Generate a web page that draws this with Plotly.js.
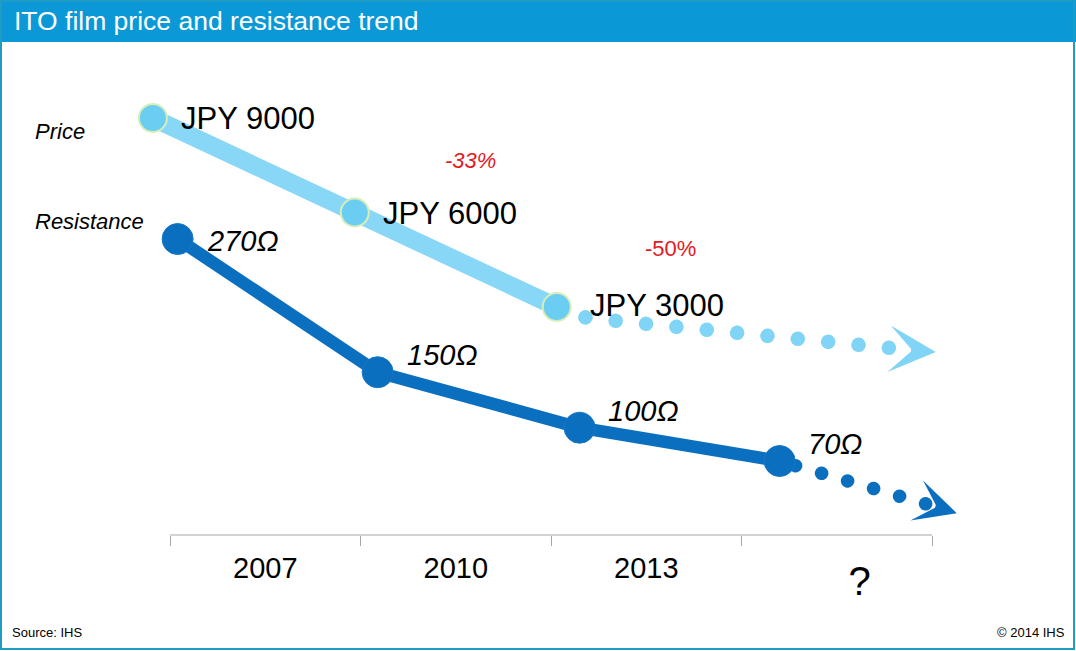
<!DOCTYPE html>
<html><head><meta charset="utf-8">
<script src="https://cdn.plot.ly/plotly-3.0.1.min.js"></script>
<style>
html,body{margin:0;padding:0;background:#fff;}
#chart{width:1076px;height:651px;}
.js-line{stroke-linecap:round;stroke-linejoin:round;}
</style></head><body><div id="chart"></div>
<script>
// ---- data ----
const categories = ['2007', '2010', '2013', '?'];
const priceX = [-0.09, 0.97, 2.03];
const priceValues = [9000, 6000, 3000];
const priceLabels = ['JPY 9000', 'JPY 6000', 'JPY 3000'];
const resistX = [0.04, 1.09, 2.15, 3.2];
const resistValues = [270, 150, 100, 70];
const resistLabels = ['270Ω', '150Ω', '100Ω', '70Ω'];
const priceTrendX = [2.03, 2.19, 3.78];
const priceTrendValues = [3000, 2650, 1700];
const resistTrendX = [3.2, 3.975];
const resistTrendValues = [70, 31];
const priceArrowTip = [4.02, 1570];
const resistArrowTip = [4.13, 23];
const changeLabels = ['-33%', '-50%'];
const seriesNames = ['Price', 'Resistance'];
const titleText = 'ITO film price and resistance trend';
const sourceText = 'Source: IHS';
const copyrightText = '© 2014 IHS';

// ---- geometry / style ----
const W = 1076, H = 651;
const M = {l: 60, r: 60, t: 45, b: 116};
const PW = W - M.l - M.r, PH = H - M.t - M.b;
const unitPx = 190.5, originPx = 170;
const xRange = [(M.l - originPx) / unitPx, (W - M.r - originPx) / unitPx];
const px = p => (p - M.l) / PW;
const py = p => (H - M.b - p) / PH;
const FONT = 'Liberation Sans, Arial, Helvetica, sans-serif';
const C = {
  bar: '#0a99d6', border: '#1f9cc4',
  priceLine: '#88d7f7', priceMarker: '#6ccdf3', priceEdge: '#d6efb8', priceDot: '#80d4f6',
  res: '#0b6fc0', red: '#e3191f', axis: '#a6a6a6'
};
const yearCenters = [0.5, 1.5, 2.5];
const unknownCenter = 3.62;
const priceLabelShift = [[26, -1], [26, -1], [31, 1]];
const resistLabelShift = [[27, -2], [27, 17], [26, 17], [26, 17]];

const traces = [
  {x: resistTrendX, y: resistTrendValues, yaxis: 'y2', mode: 'lines',
   line: {color: C.res, width: 13.5, dash: '0.1px,27px'}, hoverinfo: 'skip', showlegend: false},
  {x: resistX, y: resistValues, yaxis: 'y2', mode: 'lines+markers', name: seriesNames[1],
   line: {color: C.res, width: 12.5},
   marker: {size: 31, color: C.res, line: {color: '#1577c8', width: 1}}, showlegend: false},
  {x: priceTrendX, y: priceTrendValues, yaxis: 'y', mode: 'lines',
   line: {color: C.priceDot, width: 14.5, dash: '0.1px,30.4px'}, hoverinfo: 'skip', showlegend: false},
  {x: priceX, y: priceValues, yaxis: 'y', mode: 'lines+markers', name: seriesNames[0],
   line: {color: C.priceLine, width: 18},
   marker: {size: 28, color: C.priceMarker, line: {color: C.priceEdge, width: 2}}, showlegend: false},
  {x: [yearCenters[0]], y: [null], xaxis: 'x2', yaxis: 'y', mode: 'markers', hoverinfo: 'skip', showlegend: false},
  {x: [unknownCenter], y: [null], xaxis: 'x3', yaxis: 'y', mode: 'markers', hoverinfo: 'skip', showlegend: false}
];

const annotations = [];
priceLabels.forEach((t, i) => annotations.push({
  x: priceX[i], y: priceValues[i], xref: 'x', yref: 'y', text: t, showarrow: false,
  xanchor: 'left', yanchor: 'middle', xshift: priceLabelShift[i][0], yshift: priceLabelShift[i][1],
  font: {family: FONT, size: 31, color: '#000'}
}));
resistLabels.forEach((t, i) => annotations.push({
  x: resistX[i], y: resistValues[i], xref: 'x', yref: 'y2', text: '<i>' + t + '</i>', showarrow: false,
  xanchor: 'left', yanchor: 'middle', xshift: resistLabelShift[i][0], yshift: resistLabelShift[i][1],
  font: {family: FONT, size: 29, color: '#000'}
}));
// arrowheads of trend lines
annotations.push({x: priceArrowTip[0], y: priceArrowTip[1], xref: 'x', yref: 'y', text: '',
  showarrow: true, arrowhead: 3, arrowsize: 1.95, arrowwidth: 4, arrowcolor: C.priceDot,
  ax: -20, ay: -1.4, axref: 'pixel', ayref: 'pixel', standoff: 0});
annotations.push({x: resistArrowTip[0], y: resistArrowTip[1], xref: 'x', yref: 'y2', text: '',
  showarrow: true, arrowhead: 3, arrowsize: 1.75, arrowwidth: 4, arrowcolor: C.res,
  ax: -19, ay: -6, axref: 'pixel', ayref: 'pixel', standoff: 0});
// series names
annotations.push({x: px(33), y: py(131), xref: 'paper', yref: 'paper', text: '<i>' + seriesNames[0] + '</i>',
  showarrow: false, xanchor: 'left', yanchor: 'middle', font: {family: FONT, size: 22, color: '#000'}});
annotations.push({x: px(33), y: py(221), xref: 'paper', yref: 'paper', text: '<i>' + seriesNames[1] + '</i>',
  showarrow: false, xanchor: 'left', yanchor: 'middle', font: {family: FONT, size: 22, color: '#000'}});
// change labels
annotations.push({x: px(470), y: py(161), xref: 'paper', yref: 'paper', text: '<i>' + changeLabels[0] + '</i>',
  showarrow: false, xanchor: 'center', yanchor: 'middle', font: {family: FONT, size: 22, color: C.red}});
annotations.push({x: px(670), y: py(248), xref: 'paper', yref: 'paper', text: changeLabels[1],
  showarrow: false, xanchor: 'center', yanchor: 'middle', font: {family: FONT, size: 22, color: C.red}});
// footer
annotations.push({x: px(10), y: py(632), xref: 'paper', yref: 'paper', text: sourceText,
  showarrow: false, xanchor: 'left', yanchor: 'middle', font: {family: FONT, size: 13, color: '#000'}});
annotations.push({x: px(1067), y: py(632), xref: 'paper', yref: 'paper', text: copyrightText,
  showarrow: false, xanchor: 'right', yanchor: 'middle', font: {family: FONT, size: 13, color: '#000'}});

const shapes = [
  {type: 'rect', xref: 'paper', yref: 'paper', x0: px(0), x1: px(W), y0: py(42), y1: py(0),
   fillcolor: C.bar, line: {width: 0}, layer: 'below'},
  {type: 'rect', xref: 'paper', yref: 'paper', x0: px(1), x1: px(W - 2), y0: py(H - 2), y1: py(1),
   fillcolor: 'rgba(0,0,0,0)', line: {color: C.border, width: 2}, layer: 'above'},
  {type: 'line', xref: 'x', yref: 'paper', x0: 0, x1: categories.length, y0: 0, y1: 0,
   line: {color: C.axis, width: 1}, layer: 'below'}
];

const ticksAt = categories.map((c, i) => i).concat([categories.length]);

const layout = {
  width: W, height: H, margin: M,
  paper_bgcolor: '#fff', plot_bgcolor: 'rgba(0,0,0,0)',
  title: {text: titleText, xref: 'container', yref: 'container', x: 14 / W, xanchor: 'left',
          y: 1 - 21 / H, yanchor: 'middle', font: {family: FONT, size: 26.5, color: '#fff'}},
  xaxis: {range: xRange, tickmode: 'array', tickvals: ticksAt, showticklabels: false,
          ticks: 'outside', ticklen: 10, tickcolor: C.axis, tickwidth: 1,
          showgrid: false, zeroline: false, showline: false, fixedrange: true},
  xaxis2: {range: xRange, overlaying: 'x', anchor: 'y', side: 'bottom', tickmode: 'array',
           tickvals: yearCenters, ticktext: categories.slice(0, 3), ticks: '', ticklabelstandoff: 13,
           tickfont: {family: FONT, size: 29, color: '#000'},
           showgrid: false, zeroline: false, showline: false, fixedrange: true},
  xaxis3: {range: xRange, overlaying: 'x', anchor: 'y', side: 'bottom', tickmode: 'array',
           tickvals: [unknownCenter], ticktext: [categories[3]], ticks: '', ticklabelstandoff: 19,
           tickfont: {family: FONT, size: 40, color: '#000'},
           showgrid: false, zeroline: false, showline: false, fixedrange: true},
  yaxis: {range: [-4238, 11317], visible: false, fixedrange: true},
  yaxis2: {range: [3.33, 444.8], overlaying: 'y', visible: false, fixedrange: true},
  shapes: shapes, annotations: annotations, showlegend: false, hovermode: false
};

Plotly.newPlot('chart', traces, layout, {displayModeBar: false, staticPlot: true}).then(gd => {
  gd.querySelectorAll('.scatterlayer .trace').forEach(g => {
    const d = g.__data__;
    const t = d && d[0] && d[0].trace;
    if (t && t.index === 0) {
      const line = g.querySelector('.js-line');
      if (line) line.style.strokeDashoffset = '10.5px';
    }
  });
});
</script></body></html>
